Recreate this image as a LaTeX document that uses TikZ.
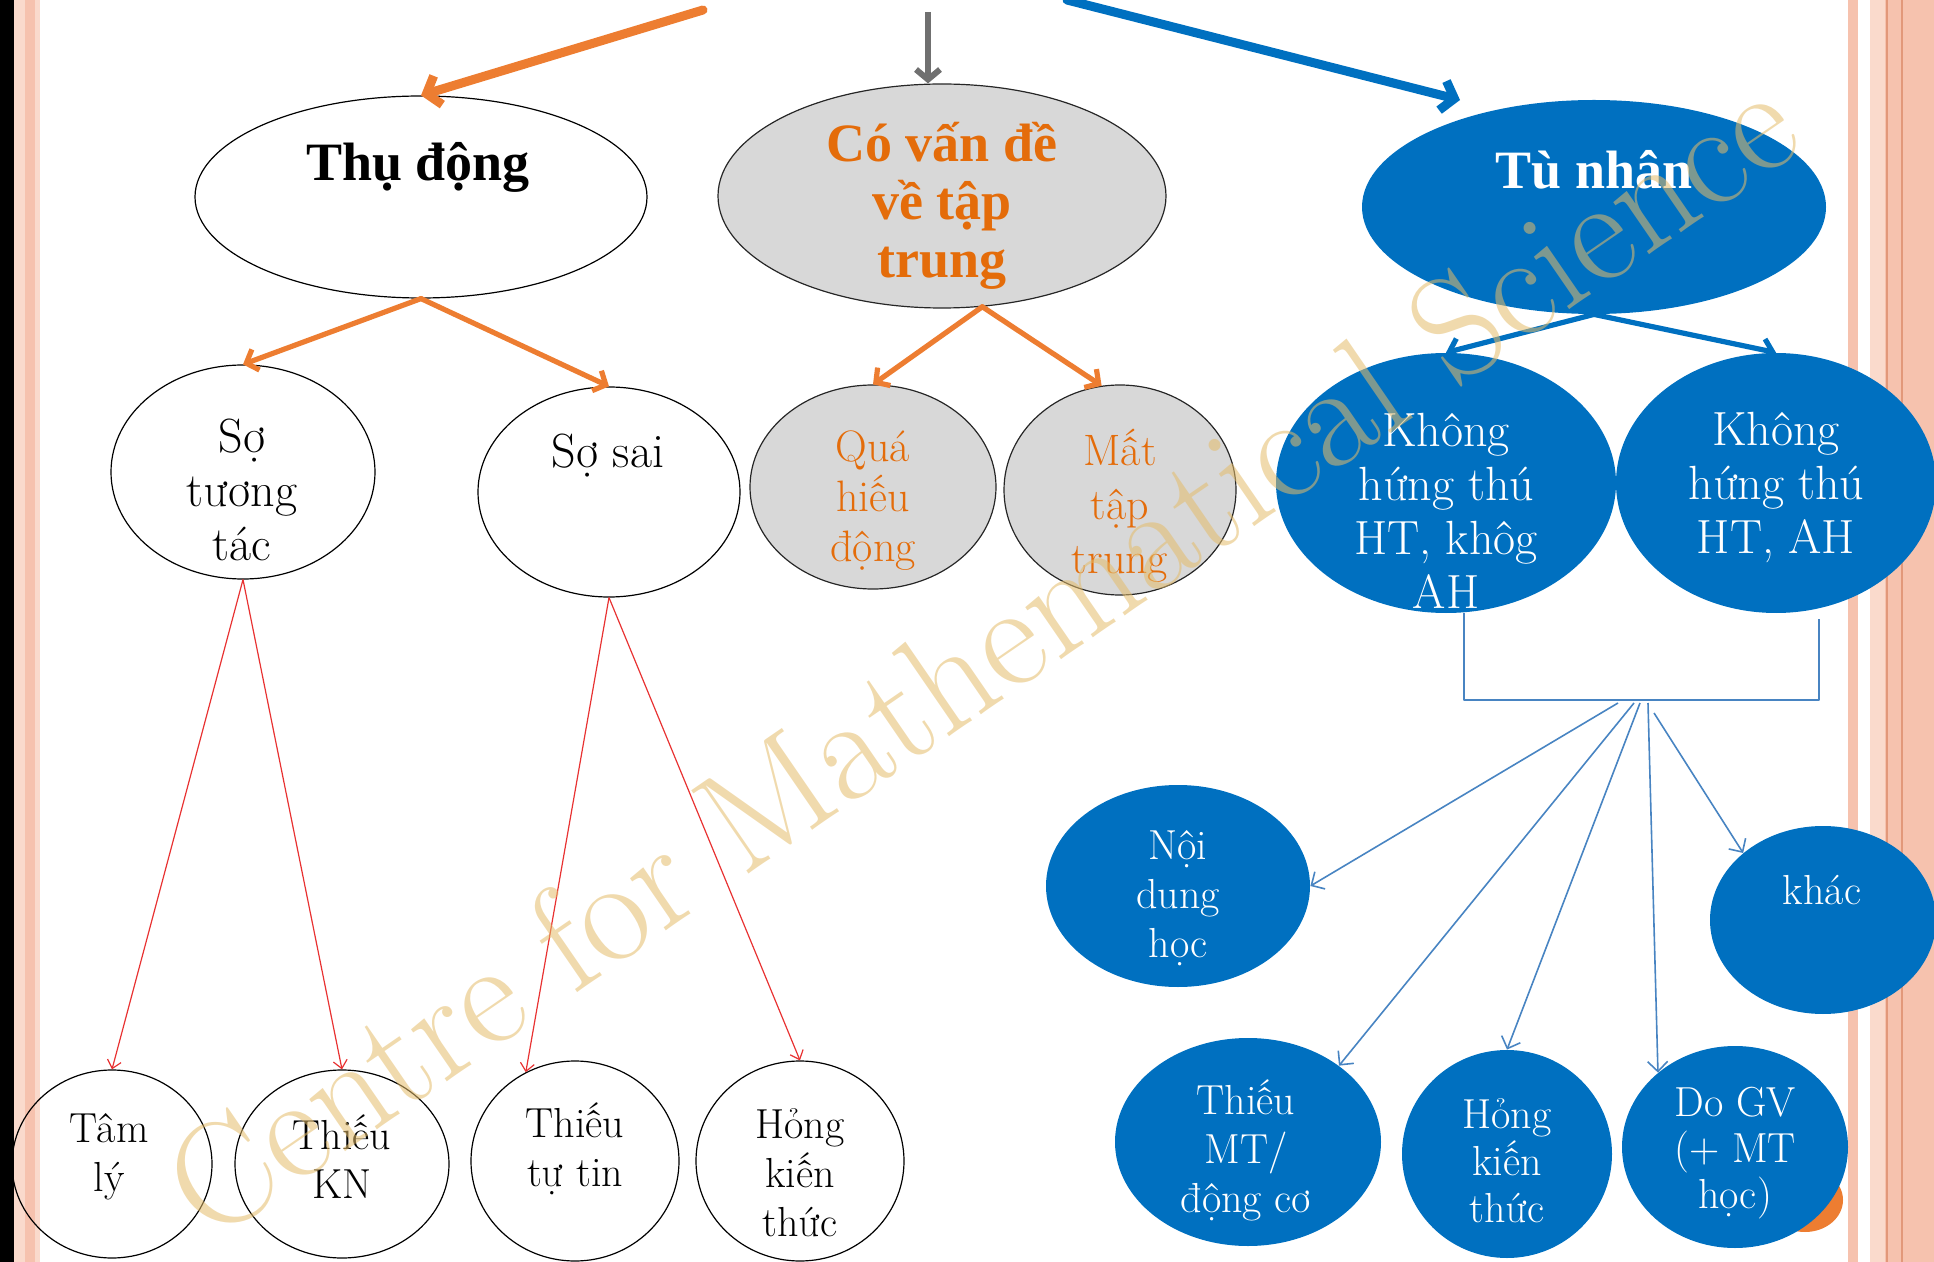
\documentclass[tikz,border=0pt]{standalone}
\usepackage{fontspec}
\newfontfamily\headfont{Liberation Serif}
\usetikzlibrary{arrows.meta,shapes.geometric,calc}
\definecolor{offblue}{RGB}{0,112,192}
\definecolor{thinblue}{RGB}{72,132,194}
\definecolor{arrorange}{RGB}{237,125,49}
\definecolor{txtorange}{RGB}{228,108,10}
\definecolor{ellgray}{RGB}{216,216,216}
\definecolor{arrgray}{RGB}{112,112,112}
\definecolor{linered}{RGB}{232,50,50}
\definecolor{pinklight}{RGB}{250,218,204}
\definecolor{pinkmid}{RGB}{246,194,174}
\definecolor{pinkdark}{RGB}{226,152,122}
\definecolor{wmtan}{RGB}{228,188,106}
\tikzset{
  whiteell/.style={ellipse,draw=black,line width=0.6pt,inner sep=0pt},
  grayell/.style={ellipse,draw=black!85,fill=ellgray,line width=0.6pt,inner sep=0pt},
  blueell/.style={ellipse,fill=offblue,inner sep=0pt},
  headtxt/.style={font=\headfont\bfseries\fontsize{27}{29}\selectfont,align=center},
  bigtxt/.style={font=\fontsize{24}{27}\selectfont,align=center},
  smalltxt/.style={font=\fontsize{21}{24.5}\selectfont,align=center},
  bigarrow/.style={line width=4.5pt,line cap=round,-{Straight Barb[length=6pt,width=15pt]}},
  midarrow/.style={arrorange,line width=2.6pt,line cap=round,-{Straight Barb[length=5pt,width=11pt]}},
  redarrow/.style={linered,line width=0.6pt,-{Straight Barb[length=4pt,width=7pt]}},
  fanarrow/.style={thinblue,line width=0.8pt,-{Straight Barb[length=5pt,width=10pt]}}
}
\begin{document}
\begin{tikzpicture}[x=0.5pt,y=-0.5pt,line join=round]
\useasboundingbox (0,0) rectangle (1934,1262);
% page border
\fill[black] (0,0) rectangle (14,1262);
\fill[pinklight] (14,0) rectangle (40,1262);
\fill[pinkmid] (25,0) rectangle (35,1262);
\fill[pinkmid] (1848,0) rectangle (1934,1262);
\fill[white] (1858,0) rectangle (1870,1262);
\fill[pinklight] (1870,0) rectangle (1885,1262);
\draw[pinkdark,line width=0.8pt] (1887,0) -- (1887,1262);
\draw[pinkdark,line width=0.8pt] (1902,0) -- (1902,1262);

\coordinate (srcL) at (703,10);
\coordinate (srcM) at (928,12);
\coordinate (srcR) at (1067,0);
\coordinate (tuin) at (1460,100);

% first row
\node[whiteell,minimum width=226pt,minimum height=101pt] (thu) at (421,197) {};
\node[grayell,minimum width=224pt,minimum height=112pt] (vande) at (942,196) {};
\node[blueell,minimum width=232pt,minimum height=107pt] (tu) at (1594,207) {};
\node[headtxt] (thutxt) at (418,167) {Thụ động};
\node[headtxt,text=txtorange] (vandetxt) at (942,206) {Có vấn đề\\về tập\\trung};
\node[headtxt,text=white] (tutxt) at (1594,170) {Tù nhân};

% second row
\node[whiteell,minimum width=132pt,minimum height=107pt] (sott) at (243,472) {};
\node[whiteell,minimum width=131pt,minimum height=105pt] (sosai) at (609,492) {};
\node[grayell,minimum width=123pt,minimum height=102pt] (qua) at (873,487) {};
\node[grayell,minimum width=116pt,minimum height=105pt] (mat) at (1120,490) {};
\node[blueell,minimum width=170pt,minimum height=130pt] (khtA) at (1446,483) {};
\node[blueell,minimum width=160pt,minimum height=130pt] (khtB) at (1776,483) {};
\node[bigtxt] (sotttxt) at (242,490) {Sợ\\tương\\tác};
\node[bigtxt] (sosaitxt) at (608,456) {Sợ sai};
\node[bigtxt,text=txtorange,font=\fontsize{22}{25}\selectfont] (quatxt) at (873,501) {Quá\\hiếu\\động};
\node[bigtxt,text=txtorange,font=\fontsize{22}{27}\selectfont] (mattxt) at (1120,506) {Mất\\tập\\trung};
\node[bigtxt,text=white] (khtAtxt) at (1446,511) {Không\\hứng thú\\HT, khôg\\AH};
\node[bigtxt,text=white] (khtBtxt) at (1776,487) {Không\\hứng thú\\HT, AH};

% blue causes
\node[blueell,minimum width=132pt,minimum height=101pt] (ndh) at (1178,886) {};
\node[blueell,minimum width=113pt,minimum height=94pt] (khac) at (1823,920) {};
\node[blueell,minimum width=133pt,minimum height=104pt] (tmt) at (1248,1142) {};
\node[blueell,minimum width=105pt,minimum height=104pt] (hongB) at (1507,1154) {};
\node[ellipse,fill=arrorange,inner sep=0pt,minimum width=38pt,minimum height=32pt] (dogvback) at (1805,1200) {};
\node[blueell,minimum width=113pt,minimum height=101pt] (dogv) at (1735,1147) {};
\node[smalltxt,text=white] (ndhtxt) at (1178,898) {Nội\\dung\\học};
\node[smalltxt,text=white] (khactxt) at (1822,890) {khác};
\node[smalltxt,text=white] (tmttxt) at (1246,1150) {Thiếu\\MT/\\động cơ};
\node[smalltxt,text=white,font=\fontsize{21}{23.5}\selectfont] (hongBtxt) at (1507,1161) {Hỏng\\kiến\\thức};
\node[smalltxt,text=white,font=\fontsize{21}{23}\selectfont] (dogvtxt) at (1735,1153) {Do GV\\(+ MT\\học)};

% bottom row
\node[whiteell,minimum width=100pt,minimum height=94pt] (tam) at (112,1164) {};
\node[whiteell,minimum width=107pt,minimum height=94pt] (kn) at (342,1164) {};
\node[whiteell,minimum width=104pt,minimum height=100pt] (tutin) at (575,1161) {};
\node[whiteell,minimum width=104pt,minimum height=100pt] (hongW) at (800,1161) {};
\node[smalltxt] (tamtxt) at (109,1157) {Tâm\\lý};
\node[smalltxt] (kntxt) at (342,1157) {Thiếu\\KN};
\node[smalltxt] (tutintxt) at (575,1149) {Thiếu\\tự tin};
\node[smalltxt] (hongWtxt) at (800,1173) {Hỏng\\kiến\\thức};

% arrows from the title
\draw[bigarrow,arrorange] (srcL) -- (thu.north);
\draw[arrgray,line width=3pt,-{Straight Barb[length=5pt,width=12pt]}] (srcM) -- (srcM |- vande.north);
\draw[bigarrow,offblue] (srcR) -- (tuin);

\draw[midarrow] (thu.south) -- (sott.north);
\draw[midarrow] (thu.south) -- (sosai.north);
\draw[midarrow] (vande.-70) -- (qua.north);
\draw[midarrow] (vande.-70) -- (mat.100);
\draw[midarrow,offblue] (tu.south) -- (khtA.north);
\draw[midarrow,offblue] (tu.south) -- (khtB.north);

\draw[redarrow] (sott.south) -- (tam.north);
\draw[redarrow] (sott.south) -- (kn.north);
\draw[redarrow] (sosai.south) -- (tutin.119);
\draw[redarrow] (sosai.south) -- (hongW.north);

% bracket and fan
\coordinate (brl) at (1464,700);
\coordinate (brr) at (1819,700);
\coordinate (fan) at (1640,703);
\draw[thinblue,line width=0.8pt] (khtA.south -| brl) -- (brl) -- (brr) -- ([yshift=-3pt]khtB.south -| brr);
\draw[fanarrow] ([xshift=-11pt]fan) -- (ndh.east);
\draw[fanarrow] ([xshift=-3pt]fan) -- (tmt.40);
\draw[fanarrow] (fan) -- (hongB.north);
\draw[fanarrow] ([xshift=4pt]fan) -- (dogv.136);
\draw[fanarrow] ([xshift=7pt,yshift=-5pt]fan) -- (khac.140);

% watermark
\node[rotate=34.5,text=wmtan,opacity=0.55,font=\fontsize{74}{74}\selectfont] (wm) at (980,654) {Centre for Mathematical Science};
\end{tikzpicture}
\end{document}
